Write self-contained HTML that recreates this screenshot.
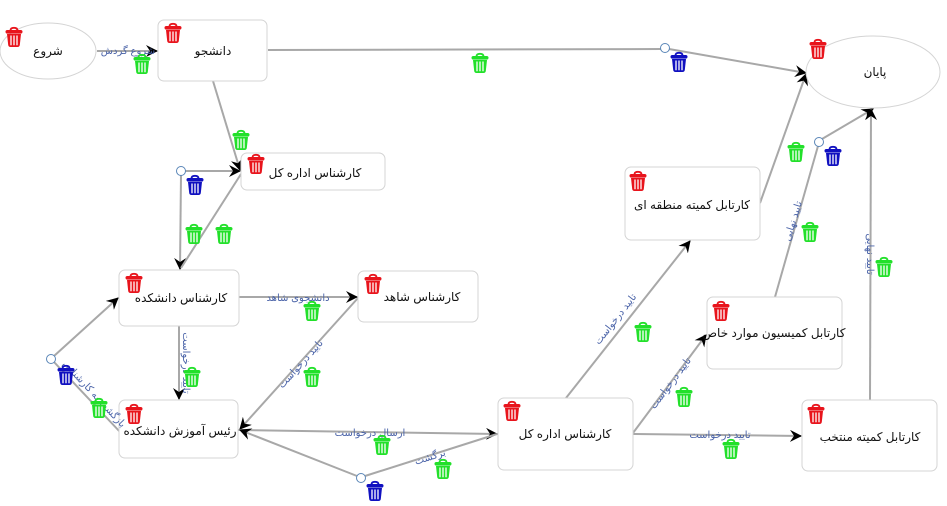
<!DOCTYPE html>
<html><head><meta charset="utf-8">
<style>
html,body{margin:0;padding:0;background:#fff;width:947px;height:506px;overflow:hidden}
svg{display:block}
.n{font-family:"Liberation Sans","DejaVu Sans",sans-serif;font-size:12px;fill:#111}
.l{font-family:"Liberation Sans","DejaVu Sans",sans-serif;font-size:10px;fill:#4a63a8}
.e{stroke:#a8a8a8;stroke-width:2;fill:none}
.b{fill:#fff;stroke:#d4d4d4;stroke-width:1}
.c{fill:#fff;stroke:#5a86b8;stroke-width:1}
</style></head><body>
<svg width="947" height="506" viewBox="0 0 947 506" xmlns="http://www.w3.org/2000/svg">
<defs>
<marker id="a" viewBox="0 0 12 12" refX="11" refY="6" markerWidth="12" markerHeight="12" markerUnits="userSpaceOnUse" orient="auto">
<path d="M0,0 L12,6 L0,12 L4,6 Z" fill="#000"/></marker>
<g id="bin">
<path d="M5.5 3.5 Q5.5 0.8 9 0.8 Q12.5 0.8 12.5 3.5" fill="none" stroke="currentColor" stroke-width="1.8"/>
<rect x="0.5" y="3" width="17" height="3.6" rx="1.8" fill="currentColor"/>
<path d="M2 7 L3.2 18 Q3.5 20 5.5 20 L12.5 20 Q14.5 20 14.8 18 L16 7 Z" fill="currentColor"/>
<path d="M6 8.5 V18.3 M9 8.5 V18.3 M12 8.5 V18.3" stroke="#fff" stroke-width="1.3"/>
</g>
</defs>

<line class="e" x1="97" y1="51" x2="157" y2="51" marker-end="url(#a)"/>
<line class="e" x1="268" y1="50" x2="661" y2="49"/>
<line class="e" x1="669" y1="49" x2="806" y2="73" marker-end="url(#a)"/>
<line class="e" x1="213" y1="81" x2="240" y2="170" marker-end="url(#a)"/>
<line class="e" x1="185" y1="171" x2="240" y2="171" marker-end="url(#a)"/>
<line class="e" x1="181" y1="175" x2="180" y2="269" marker-end="url(#a)"/>
<line class="e" x1="241" y1="174" x2="181" y2="268"/>
<line class="e" x1="54" y1="356" x2="118" y2="298" marker-end="url(#a)"/>
<line class="e" x1="54" y1="362" x2="121" y2="433"/>
<line class="e" x1="239" y1="297" x2="357" y2="297" marker-end="url(#a)"/>
<line class="e" x1="179" y1="326" x2="179" y2="399" marker-end="url(#a)"/>
<line class="e" x1="358" y1="298" x2="240" y2="429" marker-end="url(#a)"/>
<line class="e" x1="238" y1="430" x2="497" y2="434" marker-end="url(#a)"/>
<line class="e" x1="357" y1="476" x2="240" y2="430" marker-end="url(#a)"/>
<line class="e" x1="365" y1="476" x2="497" y2="434"/>
<line class="e" x1="566" y1="398" x2="690" y2="241" marker-end="url(#a)"/>
<line class="e" x1="633" y1="433" x2="706" y2="335" marker-end="url(#a)"/>
<line class="e" x1="633" y1="434" x2="801" y2="436" marker-end="url(#a)"/>
<line class="e" x1="760" y1="203" x2="806" y2="74" marker-end="url(#a)"/>
<line class="e" x1="775" y1="297" x2="818" y2="146"/>
<line class="e" x1="822" y1="139" x2="873" y2="109" marker-end="url(#a)"/>
<line class="e" x1="870" y1="400" x2="871" y2="109" marker-end="url(#a)"/>

<ellipse class="b" cx="48" cy="51" rx="48" ry="28"/>
<text class="n" x="48" y="55" text-anchor="middle">شروع</text>
<ellipse class="b" cx="873" cy="72" rx="67" ry="36"/>
<text class="n" x="875" y="76" text-anchor="middle">پایان</text>
<rect class="b" x="158" y="20" width="109" height="61" rx="6"/>
<text class="n" x="213" y="55" text-anchor="middle">دانشجو</text>
<rect class="b" x="241" y="153" width="144" height="37" rx="6"/>
<text class="n" x="315" y="177" text-anchor="middle">کارشناس اداره کل</text>
<rect class="b" x="119" y="270" width="120" height="56" rx="6"/>
<text class="n" x="181" y="302" text-anchor="middle">کارشناس دانشکده</text>
<rect class="b" x="358" y="271" width="120" height="51" rx="6"/>
<text class="n" x="422" y="301" text-anchor="middle">کارشناس شاهد</text>
<rect class="b" x="119" y="400" width="119" height="58" rx="6"/>
<text class="n" x="180" y="435" text-anchor="middle">رئیس آموزش دانشکده</text>
<rect class="b" x="498" y="398" width="135" height="72" rx="6"/>
<text class="n" x="565" y="438" text-anchor="middle">کارشناس اداره کل</text>
<rect class="b" x="625" y="167" width="135" height="73" rx="6"/>
<text class="n" x="692" y="209" text-anchor="middle">کارتابل کمیته منطقه ای</text>
<rect class="b" x="707" y="297" width="135" height="72" rx="6"/>
<text class="n" x="774" y="337" text-anchor="middle">کارتابل کمیسیون موارد خاص</text>
<rect class="b" x="802" y="400" width="135" height="71" rx="6"/>
<text class="n" x="870" y="441" text-anchor="middle">کارتابل کمیته منتخب</text>

<circle class="c" cx="665" cy="48" r="4.5"/>
<circle class="c" cx="181" cy="171" r="4.5"/>
<circle class="c" cx="51" cy="359" r="4.5"/>
<circle class="c" cx="361" cy="478" r="4.5"/>
<circle class="c" cx="819" cy="142" r="4.5"/>

<text class="l" x="128" y="54" text-anchor="middle">شروع گردش</text>
<text class="l" x="298" y="301" text-anchor="middle">دانشجوی شاهد</text>
<text class="l" transform="translate(183,363) rotate(90)" text-anchor="middle">تایید درخواست</text>
<text class="l" transform="translate(303,366) rotate(-48)" text-anchor="middle">تایید درخواست</text>
<text class="l" x="370" y="436" text-anchor="middle">ارسال درخواست</text>
<text class="l" transform="translate(431,460) rotate(-18)" text-anchor="middle">برگشت</text>
<text class="l" transform="translate(92,396) rotate(47)" text-anchor="middle">بازگشت به کارشناس</text>
<text class="l" transform="translate(618,321) rotate(-52)" text-anchor="middle">تایید درخواست</text>
<text class="l" transform="translate(673,385) rotate(-53)" text-anchor="middle">تایید درخواست</text>
<text class="l" x="720" y="438" text-anchor="middle">تایید درخواست</text>
<text class="l" transform="translate(796,222) rotate(-73)" text-anchor="middle">تایید نهایی</text>
<text class="l" transform="translate(867,254) rotate(90)" text-anchor="middle">تایید نهایی</text>

<g style="color:#e8141c">
<use href="#bin" x="5" y="27"/>
<use href="#bin" x="164" y="23"/>
<use href="#bin" x="247" y="154"/>
<use href="#bin" x="125" y="273"/>
<use href="#bin" x="364" y="274"/>
<use href="#bin" x="125" y="404"/>
<use href="#bin" x="503" y="401"/>
<use href="#bin" x="629" y="171"/>
<use href="#bin" x="712" y="301"/>
<use href="#bin" x="807" y="404"/>
<use href="#bin" x="809" y="39"/>
</g>
<g style="color:#22e02a">
<use href="#bin" x="133" y="54"/>
<use href="#bin" x="471" y="53"/>
<use href="#bin" x="232" y="130"/>
<use href="#bin" x="185" y="224"/>
<use href="#bin" x="215" y="224"/>
<use href="#bin" x="90" y="398"/>
<use href="#bin" x="303" y="301"/>
<use href="#bin" x="183" y="367"/>
<use href="#bin" x="303" y="367"/>
<use href="#bin" x="373" y="435"/>
<use href="#bin" x="434" y="459"/>
<use href="#bin" x="634" y="322"/>
<use href="#bin" x="675" y="387"/>
<use href="#bin" x="722" y="439"/>
<use href="#bin" x="787" y="142"/>
<use href="#bin" x="801" y="222"/>
<use href="#bin" x="875" y="257"/>
</g>
<g style="color:#1010c0">
<use href="#bin" x="670" y="52"/>
<use href="#bin" x="186" y="175"/>
<use href="#bin" x="57" y="365"/>
<use href="#bin" x="366" y="481"/>
<use href="#bin" x="824" y="146"/>
</g>
</svg>
</body></html>
